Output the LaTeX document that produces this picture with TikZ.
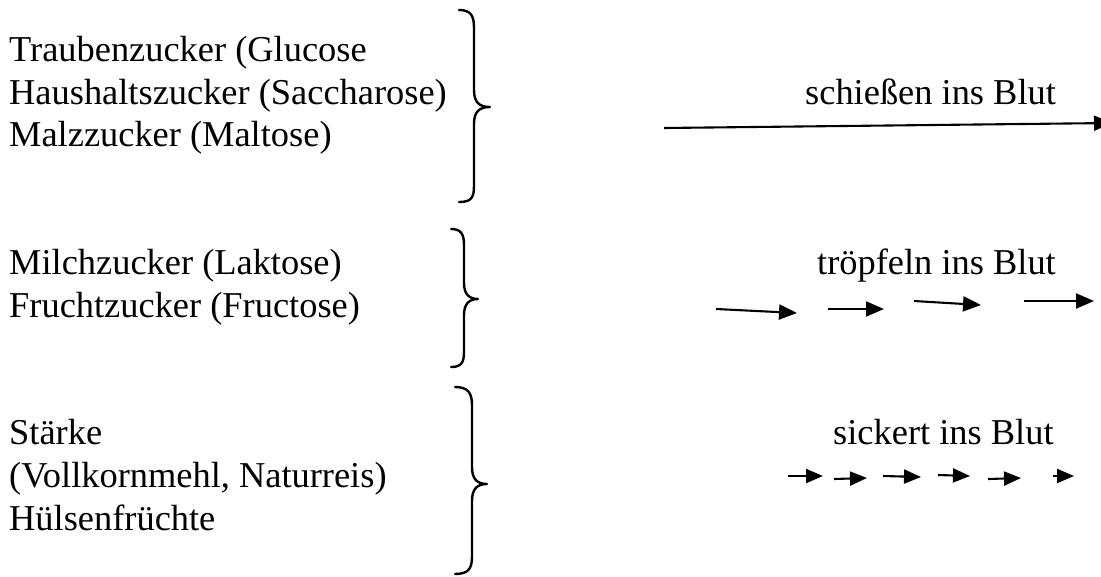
\documentclass[tikz,border=0pt]{standalone}
\usepackage{fontspec}
\setmainfont{Liberation Serif}
\usetikzlibrary{arrows.meta}
\tikzset{
  txt/.style={anchor=base west, inner sep=0pt, font=\fontsize{36.4}{42.6}\selectfont},
  brace/.style={line width=2.4pt, line cap=round, line join=round},
  arr/.style={line width=2.1pt, -{Triangle[length=18pt,width=15pt]}},
  sarr/.style={line width=2.1pt, -{Triangle[length=17pt,width=14pt]}}
}
\begin{document}
\begin{tikzpicture}[x=1pt,y=-1pt]
\useasboundingbox (0,0) rectangle (1101,576);
\clip (0,0) rectangle (1101,576);
\fill[white] (0,0) rectangle (1101,576);

% left texts
\node[txt] (t1) at (9,61.5) {Traubenzucker (Glucose};
\node[txt] (t2) at (9,104.1) {Haushaltszucker (Saccharose)};
\node[txt] (t3) at (9,146.7) {Malzzucker (Maltose)};
\node[txt] (m1) at (9,274.5) {Milchzucker (Laktose)};
\node[txt] (m2) at (9,317.1) {Fruchtzucker (Fructose)};
\node[txt] (s1) at (9,444.9) {Stärke};
\node[txt] (s2) at (9,487.5) {(Vollkornmehl, Naturreis)};
\node[txt] (s3) at (9,530.1) {Hülsenfrüchte};

% right texts
\node[txt] (r1) at (805,104.1) {schießen ins Blut};
\node[txt] (r2) at (817,274.5) {tröpfeln ins Blut};
\node[txt] (r3) at (833,444.9) {sickert ins Blut};

% braces
\draw[brace] (459,10) .. controls (471,10) and (474,16) .. (474,28) -- (474,90)
  .. controls (474,102) and (479,107) .. (490,107) .. controls (479,107) and (474,112) .. (474,124)
  -- (474,186) .. controls (474,198) and (471,202) .. (459,202);
\draw[brace] (451,229) .. controls (461,229) and (464,234) .. (464,245) -- (464,283)
  .. controls (464,294) and (469,299) .. (478,299) .. controls (469,299) and (464,304) .. (464,315)
  -- (464,352) .. controls (464,363) and (461,367) .. (451,367);
\draw[brace] (455,387) .. controls (468,387) and (472,393) .. (472,405) -- (472,467)
  .. controls (472,479) and (477,484) .. (487,484) .. controls (477,484) and (472,489) .. (472,501)
  -- (472,557) .. controls (472,569) and (468,574) .. (455,574);

% main arrow
\coordinate (b0) at (664,128);
\coordinate (b1) at (1112,123);
\draw[line width=2.1pt, -{Triangle[length=18pt,width=15pt]}] (b0) -- (b1);

% dripping arrows
\coordinate (p1s) at (716,309); \coordinate (p1e) at (797,313);
\coordinate (p2s) at (828,309); \coordinate (p2e) at (884,309);
\coordinate (p3s) at (914,301); \coordinate (p3e) at (981,305);
\coordinate (p4s) at (1024,301); \coordinate (p4e) at (1094,301);
\draw[arr] (p1s) -- (p1e);
\draw[arr] (p2s) -- (p2e);
\draw[arr] (p3s) -- (p3e);
\draw[arr] (p4s) -- (p4e);

% seeping arrows
\coordinate (q1s) at (788,476); \coordinate (q1e) at (823,476);
\coordinate (q2s) at (834,479); \coordinate (q2e) at (867,478);
\coordinate (q3s) at (883,476); \coordinate (q3e) at (921,477);
\coordinate (q4s) at (938,475); \coordinate (q4e) at (970,476);
\coordinate (q5s) at (988,479); \coordinate (q5e) at (1021,478);
\coordinate (q6s) at (1053,476); \coordinate (q6e) at (1074,476);
\draw[sarr] (q1s) -- (q1e);
\draw[sarr] (q2s) -- (q2e);
\draw[sarr] (q3s) -- (q3e);
\draw[sarr] (q4s) -- (q4e);
\draw[sarr] (q5s) -- (q5e);
\draw[sarr] (q6s) -- (q6e);
\end{tikzpicture}
\end{document}
